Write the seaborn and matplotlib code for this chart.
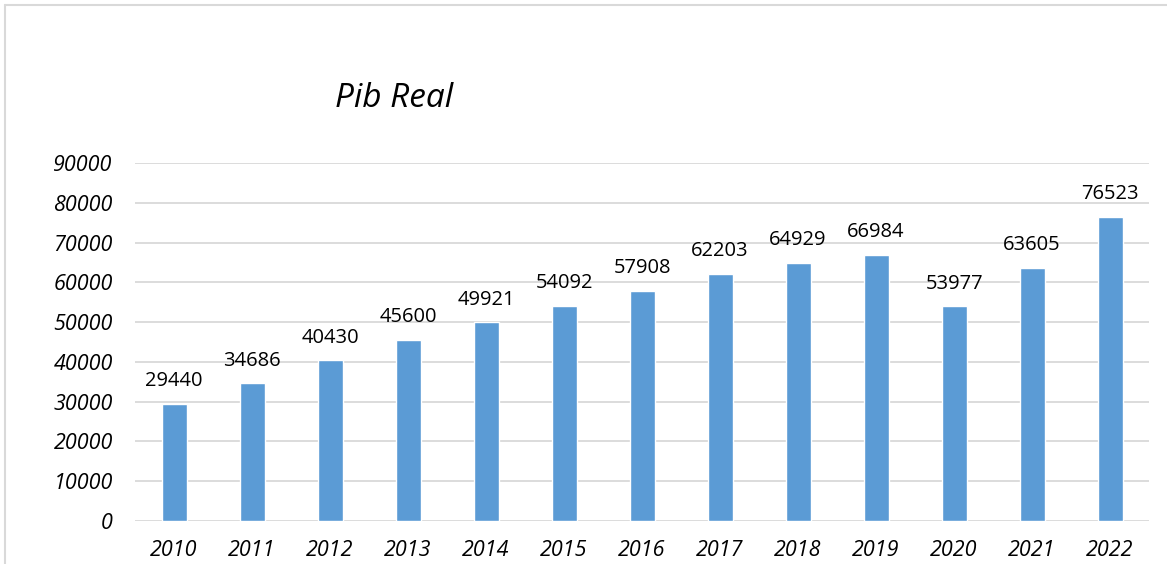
import matplotlib.pyplot as plt
import seaborn as sns
import pandas as pd
from matplotlib.lines import Line2D

# Real GDP values per year
years = ['2010', '2011', '2012', '2013', '2014', '2015', '2016',
         '2017', '2018', '2019', '2020', '2021', '2022']
pib = [29440, 34686, 40430, 45600, 49921, 54092, 57908,
       62203, 64929, 66984, 53977, 63605, 76523]
yticks = [0, 10000, 20000, 30000, 40000, 50000, 60000, 70000, 80000, 90000]

df = pd.DataFrame({'Ano': years, 'Pib': pib})

sns.set_style('white')
plt.rcParams['font.family'] = ['Open Sans', 'DejaVu Sans']

fig = plt.figure(figsize=(11.67, 5.64), dpi=100)
ax = fig.add_axes([0.1157, 0.0762, 0.869, 0.6348])

sns.barplot(x='Ano', y='Pib', data=df, color='#5B9BD5', width=0.32,
            saturation=1, ax=ax, zorder=3)

for i, v in enumerate(pib):
    ax.annotate(str(v), (i, v), xytext=(0, 9), textcoords='offset points',
                ha='center', va='bottom', fontsize=14.5, color='black')

ax.set_ylim(0, 90000)
ax.set_yticks(yticks)
ax.set_yticklabels([str(t) for t in yticks], fontsize=15.5, style='italic',
                   color='black')
ax.set_xticks(range(len(years)))
ax.set_xticklabels(years, fontsize=15.5, style='italic', color='black')
ax.set_xlim(-0.5, len(years) - 0.5)
ax.set_xlabel('')
ax.set_ylabel('')
ax.yaxis.grid(True, color='#D9D9D9', linewidth=1.3, zorder=0)
ax.tick_params(axis='y', length=0, pad=16)
ax.tick_params(axis='x', length=0, pad=14)
for s in ax.spines.values():
    s.set_visible(False)

fig.text(0.3376, 0.826, 'Pib Real', fontsize=24, style='italic',
         ha='center', va='center', color='black')

# chart border (top and left edges visible)
fig.add_artist(Line2D([5 / 1167, 1], [1 - 5 / 564] * 2, color='#D9D9D9', lw=1.5))
fig.add_artist(Line2D([5 / 1167] * 2, [0, 1 - 5 / 564], color='#D9D9D9', lw=1.5))

plt.savefig('out.png', dpi=100)
